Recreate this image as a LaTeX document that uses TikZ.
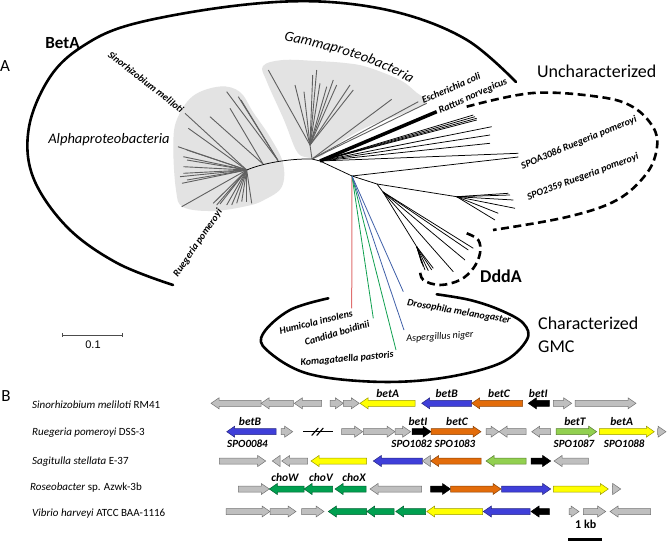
\documentclass[tikz,border=0pt]{standalone}
\usepackage{fontspec}
\setmainfont{Carlito}
\newfontfamily\arialfont{Liberation Sans}
\usetikzlibrary{decorations.text}
\definecolor{gyel}{HTML}{FFFF00}
\definecolor{gblue}{HTML}{3F3FD9}
\definecolor{gorange}{HTML}{E36C0A}
\definecolor{glgreen}{HTML}{92D050}
\definecolor{ggreen}{HTML}{00A050}
\definecolor{ggray}{HTML}{BFBFBF}
\definecolor{blobgray}{HTML}{E3E3E3}
\definecolor{brgray}{HTML}{606060}
\definecolor{brred}{HTML}{E07070}
\definecolor{brgreen}{HTML}{10A050}
\definecolor{brblue}{HTML}{4060A8}
\newcommand\myfs[1]{\fontsize{#1}{#1}\selectfont}
\newcommand\gR[4]{%
  \pgfmathsetmacro\hx{max(#1,#2-8)}%
  \draw[genebox,fill=#4,draw=#4!60!black] (#1,#3-3) -- (\hx,#3-3) -- (\hx,#3-5.5) -- (#2,#3) -- (\hx,#3+5.5) -- (\hx,#3+3) -- (#1,#3+3) -- cycle;}
\newcommand\gL[4]{%
  \pgfmathsetmacro\hx{min(#2,#1+8)}%
  \draw[genebox,fill=#4,draw=#4!60!black] (#2,#3-3) -- (\hx,#3-3) -- (\hx,#3-5.5) -- (#1,#3) -- (\hx,#3+5.5) -- (\hx,#3+3) -- (#2,#3+3) -- cycle;}
\begin{document}
\begin{tikzpicture}[x=1pt,y=-1pt,
  genebox/.style={line width=0.5pt, line join=miter},
  abr/.style={brgray, line width=0.9pt},
  ubr/.style={black, line width=0.75pt},
  treelab/.style={font=\myfs{10}\bfseries\itshape, inner sep=0pt},
  genelab/.style={font=\myfs{11.5}\bfseries\itshape, inner sep=0pt},
  spolab/.style={font=\myfs{11}\bfseries\itshape, inner sep=0pt},
  species/.style={font=\myfs{11}, anchor=west, inner sep=0pt},
  biglab/.style={font=\myfs{18}, inner sep=0pt},
  clade/.style={line width=2.6pt, line cap=round},
  dclade/.style={line width=2.6pt, dash pattern=on 8pt off 4.5pt}]
\useasboundingbox (0,0) rectangle (667,541);
\fill[white] (0,0) rectangle (667,541);

% ---------- grey clade backgrounds ----------
\fill[blobgray] plot[smooth cycle, tension=0.6] coordinates {(193,96) (220,86.5) (240,92) (253,112) (270,137) (283,163) (281.7,187) (264,200) (247,206) (213,211) (183,207) (176,190) (173.3,147) (176.7,120)};
\fill[blobgray] plot[smooth cycle, tension=0.6] coordinates {(263,66) (283,60) (316,61) (345,63) (367,67) (400,80) (417,93) (427,101) (413,110) (367,127) (333,147) (320,157) (305,157) (296,150) (284,120) (267,82)};

% ---------- tree ----------
\coordinate (A1) at (246.7,170);
\coordinate (B1) at (278,160.5);
\coordinate (B2) at (263,164);
\coordinate (G0) at (312,159);
\coordinate (G1) at (310,145);
\coordinate (H) at (320,161);
\coordinate (N1) at (352,176);
\coordinate (N2) at (377,184);
\coordinate (N3) at (456.7,196.7);
\coordinate (D0) at (383,192);
\coordinate (D1) at (416.7,246.7);

\draw[ubr] (A1) .. controls (262,163.5) and (288,158.5) .. (G0) -- (H);
\foreach \t in {(185,113.3),(188.3,128.3),(178,146.7),(186.7,150),(183.3,156.7),(187,160),(183.3,166.7),(183.3,173.3),(180,176.7),(187,180),(182,183.3),(181.7,206.7),(213.3,203.3),(216.7,205),(220,204),(226.7,205),(231.7,205),(236.7,203.3),(241.7,201.7),(246.7,201.7),(251.7,203.3)}
  \draw[abr] (A1) -- \t;
\foreach \t in {(226.7,91.7),(238.3,96.7),(241,100)} \draw[abr] (B1) -- \t;
\foreach \t in {(230,108.3),(210,116.7)} \draw[abr] (B2) -- \t;
\draw[abr] (G0) -- (G1);
\foreach \t in {(268.3,70),(295,85),(304,91.7),(312.7,75),(316.7,70),(320,83.3),(326.7,86.7),(333.3,80),(336.7,85),(350,85),(353.3,90)}
  \draw[abr] (G1) -- \t;
\foreach \t in {(391.7,99.3),(418.3,101.7),(426.7,103.3)} \draw[abr] (G0) -- \t;

\draw[black, line width=3.5pt] (H) -- (436.7,111.7);
\foreach \t in {(473.3,115),(475,116.7),(476.7,118.3),(476.7,120),(491.7,126.7),(490,135),(490,143.3),(518.3,153.3)}
  \draw[ubr] (H) -- \t;
\draw[ubr] (H) -- (N1) -- (N2) -- (N3);
\draw[ubr] (N1) -- (518.3,157);
\foreach \t in {(508.3,193.3),(510,195),(513.3,200),(515,208.3),(498.3,213.3),(495,220)} \draw[ubr] (N3) -- \t;
\draw[ubr] (N2) -- (D0) -- (D1);
\foreach \t in {(473.3,248.3),(468.3,250),(465,260),(453.3,271.7)} \draw[ubr] (D0) -- \t;
\foreach \t in {(433.3,268.3),(431.7,270),(428.3,270.7),(425,270),(423.3,266.7),(421.7,263.3)} \draw[ubr] (D1) -- \t;

\draw[brred, line width=1pt] (N1) -- (351.7,308.3);
\draw[brgreen, line width=0.8pt] (N1) -- (373.3,318.3);
\draw[brgreen, line width=0.8pt] (N1) -- (396,350);
\draw[brblue, line width=0.8pt] (N1) -- (404,330);
\draw[brblue, line width=0.8pt] (N1) -- (403.3,291.7);

% ---------- clade outlines ----------
\draw[clade] plot[smooth, tension=0.6] coordinates {(173,285) (117,263) (67,227) (33,177) (29,127) (50,77) (83,46) (133,24) (233,6) (320,1.5) (400,13) (467,40) (516,82)};
\draw[dclade] plot[smooth, tension=0.6] coordinates {(466.7,106.7) (533,93) (600,97) (633,107) (653,127) (657,147) (647,173) (617,200) (567,217) (493,230)};
\draw[dclade] plot[smooth, tension=0.6] coordinates {(466.7,233.3) (478.3,240) (480,253.3) (473.3,268.3) (460,280) (440,285) (423.3,280) (420,270)};
\draw[clade] plot[smooth, tension=0.6] coordinates {(328.3,298.3) (290,310) (263.3,333.3) (266.7,350) (306.7,373.3) (373.3,381.7) (440,378.3) (500,363.3) (526.7,340) (523.3,323.3) (500,310) (470,300) (436.7,294.3)};

% ---------- pane A labels ----------
\node[font=\myfs{17}, inner sep=0pt] (labA) at (5,66) {A};
\node[font=\myfs{17}\bfseries, inner sep=0pt] (betAclade) at (62.5,43.3) {BetA};
\node[font=\myfs{14.5}\itshape, inner sep=0pt] (alpha) at (109,140) {Alphaproteobacteria};
\path[decorate, decoration={text along path, text={|\myfs{14.5}\itshape|Gammaproteobacteria}, text align=center}] (281,40) .. controls (320,48) and (370,58) .. (413,85);
\node[biglab] (unch) at (596.7,71.7) {Uncharacterized};
\node[font=\myfs{18}\bfseries, inner sep=0pt] (ddda) at (501,276.7) {DddA};
\node[biglab, anchor=west] (char1) at (538,323.3) {Characterized};
\node[biglab, anchor=west] (char2) at (538,346.7) {GMC};

\node[treelab, rotate=-38.2] (tSme) at (146,82) {Sinorhizobium meliloti};
\node[treelab, rotate=55.6] (tRpo) at (198,243) {Ruegeria pomeroyi};
\node[treelab, rotate=23] (tEco) at (451,88) {Escherichia coli};
\node[treelab, rotate=24] (tRno) at (473,96) {Rattus norvegicus};
\node[treelab, rotate=22.5] (tS1) at (579,143) {SPOA3086 Ruegeria pomeroyi};
\node[treelab, rotate=20.5] (tS2) at (583,177) {SPO2359 Ruegeria pomeroyi};
\node[treelab, rotate=13.5] (tHin) at (316,322) {Humicola insolens};
\node[treelab, rotate=16.7] (tCbo) at (337,333) {Candida boidinii};
\node[treelab, rotate=5] (tKpa) at (347,359) {Komagataella pastoris};
\node[treelab, font=\myfs{10}\itshape, rotate=4] (tAni) at (440,337) {Aspergillus niger};
\node[treelab, rotate=-9.8] (tDme) at (459,312) {Drosophila melanogaster};

% scale bar
\coordinate (sbL) at (62.7,335);
\coordinate (sbR) at (122.7,335);
\draw[black!70, line width=0.9pt] (sbL) -- (sbR);
\draw[black!70, line width=0.9pt] ([yshift=2pt]sbL) -- ([yshift=-2pt]sbL);
\draw[black!70, line width=0.9pt] ([yshift=2pt]sbR) -- ([yshift=-2pt]sbR);
\node[font=\arialfont\myfs{11}, inner sep=0pt] (sbt) at (93,345) {0.1};

% ---------- pane B ----------
\node[font=\myfs{17}, inner sep=0pt] (labB) at (6,396) {B};
\node[species] (sp1) at (32,405) {\textit{Sinorhizobium meliloti} RM41};
\node[species] (sp2) at (32,433) {\textit{Ruegeria pomeroyi} DSS-3};
\node[species] (sp3) at (32,461.7) {\textit{Sagitulla stellata} E-37};
\node[species] (sp4) at (30,488) {\textit{Roseobacter} sp. Azwk-3b};
\node[species] (sp5) at (32,513.3) {\textit{Vibrio harveyi} ATCC BAA-1116};

% row 1
\gL{211}{261}{403.3}{ggray}
\gL{261}{293.3}{403.3}{ggray}
\gL{294.3}{321.7}{403.3}{ggray}
\gR{330}{343.3}{403.3}{ggray}
\gR{343.3}{359.3}{403.3}{ggray}
\gL{360}{415}{403.3}{gyel}
\gL{421.7}{471.7}{403.3}{gblue}
\gL{471.7}{522.7}{403.3}{gorange}
\gL{528.3}{549.3}{403.3}{black}
\gR{553.3}{571.7}{403.3}{ggray}
\gR{575}{636}{403.3}{ggray}
\node[genelab] (r1a) at (387.7,394) {betA};
\node[genelab] (r1b) at (446.7,394) {betB};
\node[genelab] (r1c) at (499,394) {betC};
\node[genelab] (r1i) at (538.3,394) {betI};

% row 2
\gL{226.7}{276}{431.7}{gblue}
\gR{281}{292.7}{431.7}{ggray}
\coordinate (brL) at (303.3,431.7);
\coordinate (brR) at (332.7,431.7);
\draw[line width=1.1pt] (brL) -- (brR);
\draw[line width=1.1pt] (311.7,435.5) -- (318.3,428);
\draw[line width=1.1pt] (316.7,435.5) -- (323.3,428);
\gR{341.7}{362.7}{431.7}{ggray}
\gR{363.3}{395}{431.7}{ggray}
\gR{395}{410.7}{431.7}{ggray}
\gR{412}{431}{431.7}{black}
\gR{431}{481}{431.7}{gorange}
\gR{486}{499}{431.7}{ggray}
\gL{499}{526}{431.7}{ggray}
\gL{531.7}{550.7}{431.7}{ggray}
\gR{556}{596.7}{431.7}{glgreen}
\gR{599.3}{654.3}{431.7}{gyel}
\gR{657.7}{666}{431.7}{ggray}
\node[genelab] (r2b) at (250,421.7) {betB};
\node[genelab] (r2i) at (418,421.7) {betI};
\node[genelab] (r2c) at (457,421.7) {betC};
\node[genelab] (r2t) at (575,421.7) {betT};
\node[genelab] (r2a) at (621.7,421.7) {betA};
\node[spolab] (s84) at (247.5,443.3) {SPO0084};
\node[spolab] (s82) at (411.7,443.3) {SPO1082};
\node[spolab] (s83) at (455,443.3) {SPO1083};
\node[spolab] (s87) at (574,443.3) {SPO1087};
\node[spolab] (s88) at (624.2,443.3) {SPO1088};

% row 3
\gR{219.3}{265.7}{461}{ggray}
\gL{272.3}{280}{461}{ggray}
\gL{281.7}{307.7}{461}{ggray}
\gL{311}{366.7}{461}{gyel}
\gL{373.3}{422.3}{461}{gblue}
\gL{422.3}{430.7}{461}{ggray}
\gL{430.7}{481}{461}{gorange}
\gL{486}{526}{461}{glgreen}
\gR{531}{550.7}{461}{black}
\gL{554}{588.3}{461}{ggray}

% row 4
\gR{238.3}{269.3}{489}{ggray}
\gL{269.3}{304}{489}{ggreen}
\gL{304}{332.7}{489}{ggreen}
\gL{335}{366}{489}{ggreen}
\gL{370}{421.7}{489}{ggray}
\gR{430.7}{450.5}{489}{black}
\gR{450.5}{501}{489}{gorange}
\gR{501.7}{550.7}{489}{gblue}
\gR{553.3}{608.3}{489}{gyel}
\gR{612.3}{620.7}{489}{ggray}
\node[genelab] (r4w) at (285,477.3) {choW};
\node[genelab] (r4v) at (321,477.3) {choV};
\node[genelab] (r4x) at (354,477.3) {choX};

% row 5
\gR{226}{270}{511.5}{ggray}
\gR{270}{296}{511.5}{ggray}
\gR{301.7}{324}{511.5}{ggray}
\gL{328.3}{366.7}{511.5}{ggreen}
\gL{366.7}{394}{511.5}{ggreen}
\gL{395.7}{425.7}{511.5}{ggreen}
\gL{426.7}{482.7}{511.5}{gyel}
\gL{483.3}{530}{511.5}{gblue}
\gL{531}{549.3}{511.5}{black}
\gR{569}{579}{511.5}{ggray}
\gR{583.3}{605.7}{511.5}{ggray}
\gL{610}{650.7}{511.5}{ggray}

% 1 kb scale
\node[font=\myfs{12}\bfseries, inner sep=0pt] (kb) at (585.7,524) {1 kb};
\coordinate (kbL) at (568.3,539.3);
\coordinate (kbR) at (601.7,539.3);
\draw[line width=3pt] (kbL) -- (kbR);
\end{tikzpicture}
\end{document}
